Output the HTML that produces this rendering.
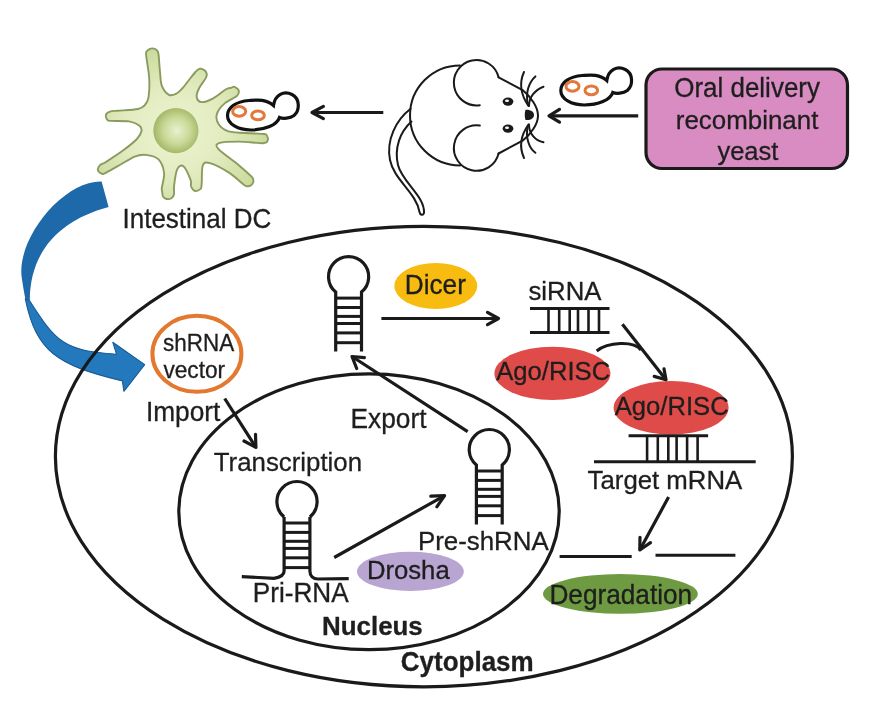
<!DOCTYPE html>
<html><head><meta charset="utf-8"><style>
html,body{margin:0;padding:0;background:#fff;width:876px;height:706px;overflow:hidden}
svg{display:block;will-change:transform}
text{font-family:"Liberation Sans",sans-serif;fill:#1e1e1e;stroke:#1e1e1e;stroke-width:0.3px}
</style></head><body>
<svg width="876" height="706" viewBox="0 0 876 706">
<defs><radialGradient id="dcg" cx="0.45" cy="0.55" r="0.6"><stop offset="0" stop-color="#edf4d2"/><stop offset="0.5" stop-color="#e2ebbf"/><stop offset="1" stop-color="#c8d897"/></radialGradient><radialGradient id="nucg" cx="0.52" cy="0.5" r="0.5"><stop offset="0" stop-color="#e9f1cf"/><stop offset="0.6" stop-color="#c9d896"/><stop offset="1" stop-color="#a6b96a"/></radialGradient></defs>
<path d="M101.6,181.4 C63.3,180.3 14.9,239.3 22.0,279.6 C32.2,348.7 49.6,363.5 122.4,380.9 L123.9,391.3 L144.7,364.6 L112.8,342.3 L116.5,354.2 C63.6,350.6 56.4,342.5 29.8,301.0 C29.7,251.8 59.3,220.0 108.6,206.9 Z" fill="#1e69aa"/>
<path d="M25.3,298.8 C36.2,351.7 56.9,365.2 122.4,380.9 L123.9,391.3 L144.7,364.6 L112.8,342.3 L116.5,354.2 C63.6,350.6 56.4,342.5 29.8,301.0 Z" fill="#2479bd" stroke="#1b5e9b" stroke-width="1.1" stroke-linejoin="round"/>
<path d="M146.1,54.8 C145.8,50.2 146.7,51.8 147.4,50.8 C148.0,49.8 148.8,49.2 149.9,48.8 C151.0,48.4 153.0,48.3 154.1,48.6 C155.3,48.8 156.1,49.3 156.8,50.3 C157.6,51.2 158.0,50.6 158.5,54.2 C159.0,57.8 159.4,66.6 160.0,71.9 C160.6,77.2 160.4,82.1 161.9,85.9 C163.4,89.7 166.5,93.5 168.9,94.8 C171.3,96.1 174.3,94.6 176.6,93.5 C178.9,92.4 180.2,90.8 182.7,88.0 C185.2,85.2 189.5,79.3 191.6,76.6 C193.7,73.9 194.2,73.3 195.4,72.0 C196.5,70.8 197.4,69.8 198.4,69.3 C199.4,68.7 200.3,68.6 201.5,68.8 C202.6,69.1 204.3,70.0 205.1,70.7 C206.0,71.5 206.4,72.3 206.6,73.5 C206.7,74.6 207.3,75.1 206.0,77.6 C204.8,80.0 200.8,84.8 199.2,88.0 C197.6,91.2 196.3,94.7 196.7,97.0 C197.1,99.3 199.0,101.9 201.8,102.1 C204.6,102.3 209.3,100.4 213.3,98.3 C217.3,96.2 223.0,91.1 226.0,89.3 C229.0,87.5 229.7,88.2 231.0,87.8 C232.4,87.4 233.1,86.4 234.4,86.9 C235.6,87.4 238.3,89.1 238.7,90.6 C239.1,92.1 239.1,93.9 236.8,96.0 C234.4,98.1 228.0,100.5 224.7,103.4 C221.4,106.3 218.1,110.2 217.0,113.6 C215.9,117.0 216.5,120.8 218.4,123.8 C220.3,126.8 223.1,129.8 228.6,131.4 C234.1,133.0 245.6,132.9 251.5,133.3 C257.4,133.7 261.4,133.7 264.0,134.0 C266.5,134.4 266.2,134.3 266.8,135.4 C267.4,136.5 268.3,139.3 267.6,140.6 C267.0,141.9 267.8,143.0 263.0,143.2 C258.2,143.3 246.0,141.6 238.8,141.6 C231.6,141.6 223.0,141.7 219.6,142.9 C216.2,144.1 215.1,145.1 218.3,148.8 C221.5,152.5 233.3,160.5 238.8,165.2 C244.3,169.9 249.2,174.2 251.6,176.7 C254.0,179.2 253.1,179.0 253.3,180.0 C253.6,181.1 253.5,181.9 253.0,182.9 C252.5,183.8 251.4,185.1 250.5,185.7 C249.6,186.2 248.7,186.4 247.7,186.3 C246.6,186.2 247.4,187.2 244.2,184.9 C241.0,182.6 234.3,176.0 228.6,172.4 C222.9,168.8 214.3,164.3 210.0,163.1 C205.7,161.9 204.3,162.1 202.9,165.2 C201.5,168.3 202.0,178.2 201.8,181.6 C201.6,185.0 201.7,184.3 201.5,185.5 C201.3,186.7 201.7,188.0 200.6,188.9 C199.5,189.9 196.6,191.4 195.0,191.0 C193.4,190.6 191.9,188.4 191.1,186.5 C190.4,184.6 191.8,183.0 190.5,179.6 C189.2,176.2 185.6,167.9 183.4,166.2 C181.2,164.5 178.8,166.1 177.2,169.3 C175.6,172.6 174.6,181.5 174.1,185.7 C173.6,189.9 174.4,192.4 174.0,194.4 C173.6,196.4 172.7,197.1 171.8,197.9 C171.0,198.7 170.1,199.1 169.0,199.1 C167.8,199.2 166.0,198.8 165.0,198.3 C163.9,197.8 163.3,197.1 162.8,196.1 C162.4,195.0 162.4,193.4 162.2,192.0 C162.1,190.6 161.5,191.0 161.8,187.8 C162.1,184.6 164.7,177.7 164.1,173.0 C163.5,168.3 161.5,162.4 158.5,159.4 C155.5,156.4 150.0,155.4 146.0,154.9 C142.0,154.4 139.4,154.7 134.7,156.6 C130.0,158.5 122.6,163.5 117.7,166.2 C112.8,168.9 107.8,171.8 105.2,173.1 C102.6,174.3 103.3,174.3 102.1,173.9 C100.9,173.4 98.3,171.8 98.0,170.4 C97.6,169.0 98.4,166.8 99.8,165.3 C101.2,163.9 102.4,164.2 106.3,161.7 C110.2,159.2 118.2,154.1 123.3,150.3 C128.4,146.5 133.9,142.2 136.9,139.0 C139.9,135.8 141.1,133.3 141.5,131.0 C141.9,128.7 141.3,127.0 139.2,125.4 C137.1,123.8 133.5,122.2 129.0,121.4 C124.5,120.7 115.6,121.1 112.0,120.9 C108.4,120.7 108.5,121.1 107.5,120.1 C106.4,119.0 105.5,116.1 106.0,114.6 C106.5,113.2 108.6,112.1 110.6,111.4 C112.6,110.7 113.1,111.1 117.7,110.7 C122.3,110.3 133.5,110.0 138.0,109.0 C142.5,108.0 143.2,106.9 144.9,105.0 C146.7,103.1 147.8,101.9 148.5,97.4 C149.2,92.9 149.6,85.3 149.2,78.2 C148.8,71.1 146.4,59.4 146.1,54.8Z" fill="url(#dcg)" stroke="#8a9b60" stroke-width="1.9"/>
<circle cx="175.9" cy="130.6" r="22.6" fill="url(#nucg)"/>
<g transform="translate(0,0)"><path d="M273.5,105.5 C266,98.5 256,100 249,100.5 C236,101.5 227.5,107.5 227.5,115.5 C227.5,124 238,130 251,130 C265,130 277,125 279.5,117.5 C283,119 290,118.5 294,115.5 C300,110.5 300,98.5 292,94.5 C284,90.5 275,94.5 273.5,105.5 Z" fill="#fff" stroke="#111" stroke-width="3.2"/><ellipse cx="239.2" cy="111.4" rx="6.5" ry="4.8" fill="none" stroke="#e3783a" stroke-width="3"/><ellipse cx="258" cy="115.4" rx="6.3" ry="4.4" fill="none" stroke="#e3783a" stroke-width="3"/></g>
<g transform="translate(333.3,-25)"><path d="M273.5,105.5 C266,98.5 256,100 249,100.5 C236,101.5 227.5,107.5 227.5,115.5 C227.5,124 238,130 251,130 C265,130 277,125 279.5,117.5 C283,119 290,118.5 294,115.5 C300,110.5 300,98.5 292,94.5 C284,90.5 275,94.5 273.5,105.5 Z" fill="#fff" stroke="#111" stroke-width="3.2"/><ellipse cx="239.2" cy="111.4" rx="6.5" ry="4.8" fill="none" stroke="#e3783a" stroke-width="3"/><ellipse cx="258" cy="115.4" rx="6.3" ry="4.4" fill="none" stroke="#e3783a" stroke-width="3"/></g>
<line x1="383.3" y1="112.5" x2="312" y2="112.5" stroke="#1a1a1a" stroke-width="3.2"/><polyline points="323.4,106.4 312,112.5 323.4,118.6" fill="none" stroke="#1a1a1a" stroke-width="3.2" stroke-linejoin="round" stroke-linecap="round"/>
<line x1="638.2" y1="115.8" x2="549" y2="115.8" stroke="#1a1a1a" stroke-width="3.2"/><polyline points="559.5,109.4 549,115.8 559.5,122.1" fill="none" stroke="#1a1a1a" stroke-width="3.2" stroke-linejoin="round" stroke-linecap="round"/>
<g fill="none" stroke="#1a1a1a" stroke-width="2.0" stroke-linecap="round">
<path d="M460,65.4 A50,50 0 0 0 460,165.4"/>
<path d="M479.8,105.2 A22.7,22.7 0 1 1 498.6,77.3"/>
<path d="M479.8,125.6 A22.7,22.7 0 1 0 498.6,153.5"/>
<path d="M498.6,77.3 L522.6,90.1 C531,97 538,107 538,115.4 C538,124 531,134 522.6,140.7 L498.6,153.5"/>
<path d="M528.5,106 C521,95 519,83 524,72"/><path d="M528,105 C525,93 529,82 535.4,76.4"/><path d="M529,106 C529,97 535,90 543.5,86.7"/>
<path d="M528.5,124.5 C521,135 519,147 524,158"/><path d="M528,125.5 C525,137 529,148 535.4,152.8"/><path d="M529,124.5 C529,133.5 535,140.5 543.5,142.3"/>
<path d="M410.6,108.8 C396,120 386,140 390,160 C394,180 416,192 419.5,212 C420,215 423,216 424,213 C425,196 402,182 398,165 C394,148 400,132 411.5,121.6"/>
</g>
<ellipse cx="508" cy="101.6" rx="5.4" ry="4.1" fill="#1a1a1a"/><ellipse cx="508" cy="128.6" rx="5.4" ry="4.1" fill="#1a1a1a"/>
<ellipse cx="507" cy="100.8" rx="2" ry="1.3" fill="#fff"/><ellipse cx="507" cy="127.8" rx="2" ry="1.3" fill="#fff"/>
<path d="M525.5,109.8 C531,109.5 534,112 534,115 C534,118 531,120.5 525.5,120 C524.5,117 524.5,113 525.5,109.8 Z" fill="#1a1a1a"/>
<rect x="646" y="69" width="201.5" height="99.5" rx="16" ry="16" fill="#d98cc2" stroke="#1a1a1a" stroke-width="3.2"/>
<ellipse cx="423.9" cy="456.6" rx="368.5" ry="230.2" fill="none" stroke="#1a1a1a" stroke-width="3.2"/>
<ellipse cx="369" cy="511.7" rx="190.2" ry="137.9" fill="none" stroke="#1a1a1a" stroke-width="3.2"/>
<ellipse cx="196.9" cy="353.8" rx="44.5" ry="38" fill="none" stroke="#e3782f" stroke-width="4"/>
<path d="M335.7,351.6 L335.7,292.1 A20.1,20.1 0 1 1 361.5,292.1 L361.5,351.6" fill="none" stroke="#1a1a1a" stroke-width="3.2"/><line x1="335.7" y1="298.1" x2="361.5" y2="298.1" stroke="#1a1a1a" stroke-width="3"/><line x1="335.7" y1="307.5" x2="361.5" y2="307.5" stroke="#1a1a1a" stroke-width="3"/><line x1="335.7" y1="316.4" x2="361.5" y2="316.4" stroke="#1a1a1a" stroke-width="3"/><line x1="335.7" y1="323.5" x2="361.5" y2="323.5" stroke="#1a1a1a" stroke-width="3"/><line x1="335.7" y1="332.9" x2="361.5" y2="332.9" stroke="#1a1a1a" stroke-width="3"/><line x1="335.7" y1="342.7" x2="361.5" y2="342.7" stroke="#1a1a1a" stroke-width="3"/>
<path d="M476.4,524.5 L476.4,465.0 A20.1,20.1 0 1 1 502.2,465.0 L502.2,524.5" fill="none" stroke="#1a1a1a" stroke-width="3.2"/><line x1="476.4" y1="471.0" x2="502.2" y2="471.0" stroke="#1a1a1a" stroke-width="3"/><line x1="476.4" y1="480.4" x2="502.2" y2="480.4" stroke="#1a1a1a" stroke-width="3"/><line x1="476.4" y1="489.3" x2="502.2" y2="489.3" stroke="#1a1a1a" stroke-width="3"/><line x1="476.4" y1="496.4" x2="502.2" y2="496.4" stroke="#1a1a1a" stroke-width="3"/><line x1="476.4" y1="505.8" x2="502.2" y2="505.8" stroke="#1a1a1a" stroke-width="3"/><line x1="476.4" y1="515.6" x2="502.2" y2="515.6" stroke="#1a1a1a" stroke-width="3"/>
<path d="M284.1,517.0 A20.1,20.1 0 1 1 309.9,517.0" fill="none" stroke="#1a1a1a" stroke-width="3.2"/><line x1="284.1" y1="523.0" x2="309.9" y2="523.0" stroke="#1a1a1a" stroke-width="3"/><line x1="284.1" y1="532.4" x2="309.9" y2="532.4" stroke="#1a1a1a" stroke-width="3"/><line x1="284.1" y1="541.3" x2="309.9" y2="541.3" stroke="#1a1a1a" stroke-width="3"/><line x1="284.1" y1="548.4" x2="309.9" y2="548.4" stroke="#1a1a1a" stroke-width="3"/><line x1="284.1" y1="557.8" x2="309.9" y2="557.8" stroke="#1a1a1a" stroke-width="3"/><line x1="284.1" y1="567.6" x2="309.9" y2="567.6" stroke="#1a1a1a" stroke-width="3"/>
<path d="M241.8,576.6 L274,578.3 C279,577.5 284.1,576 284.1,571 L284.1,517 M309.9,517 L309.9,571 C310,576 313,579 318,579 L348.7,578.7" fill="none" stroke="#1a1a1a" stroke-width="3.2"/>
<ellipse cx="435.8" cy="286" rx="41.5" ry="22.9" fill="#f8bb10"/>
<ellipse cx="552.4" cy="373.4" rx="58" ry="26.6" fill="#de4b48"/>
<ellipse cx="671.1" cy="407.8" rx="57.5" ry="26.8" fill="#de4b48"/>
<ellipse cx="410.4" cy="571.4" rx="53.4" ry="19.6" fill="#b8a5d1"/>
<ellipse cx="620.4" cy="593.9" rx="77.4" ry="19.8" fill="#6e9b41"/>
<line x1="530" y1="308.5" x2="609.5" y2="308.5" stroke="#1a1a1a" stroke-width="3"/><line x1="530" y1="332.4" x2="609.5" y2="332.4" stroke="#1a1a1a" stroke-width="3"/><line x1="548.5" y1="308.5" x2="548.5" y2="332.4" stroke="#1a1a1a" stroke-width="2.6"/><line x1="559.2" y1="308.5" x2="559.2" y2="332.4" stroke="#1a1a1a" stroke-width="2.6"/><line x1="569.7" y1="308.5" x2="569.7" y2="332.4" stroke="#1a1a1a" stroke-width="2.6"/><line x1="578.0" y1="308.5" x2="578.0" y2="332.4" stroke="#1a1a1a" stroke-width="2.6"/><line x1="588.5" y1="308.5" x2="588.5" y2="332.4" stroke="#1a1a1a" stroke-width="2.6"/><line x1="599.0" y1="308.5" x2="599.0" y2="332.4" stroke="#1a1a1a" stroke-width="2.6"/>
<line x1="628.6" y1="435.8" x2="708.1" y2="435.8" stroke="#1a1a1a" stroke-width="3"/><line x1="594" y1="461.8" x2="755.7" y2="461.8" stroke="#1a1a1a" stroke-width="3"/><line x1="647.1" y1="435.8" x2="647.1" y2="461.8" stroke="#1a1a1a" stroke-width="2.6"/><line x1="657.8" y1="435.8" x2="657.8" y2="461.8" stroke="#1a1a1a" stroke-width="2.6"/><line x1="668.3" y1="435.8" x2="668.3" y2="461.8" stroke="#1a1a1a" stroke-width="2.6"/><line x1="676.6" y1="435.8" x2="676.6" y2="461.8" stroke="#1a1a1a" stroke-width="2.6"/><line x1="687.1" y1="435.8" x2="687.1" y2="461.8" stroke="#1a1a1a" stroke-width="2.6"/><line x1="697.6" y1="435.8" x2="697.6" y2="461.8" stroke="#1a1a1a" stroke-width="2.6"/>
<line x1="381.4" y1="318.5" x2="498.5" y2="318.5" stroke="#1a1a1a" stroke-width="3.2"/><polyline points="487.5,312.4 498.5,318.5 487.5,324.6" fill="none" stroke="#1a1a1a" stroke-width="3.2" stroke-linejoin="round" stroke-linecap="round"/>
<line x1="224.7" y1="398.5" x2="255.9" y2="447.4" stroke="#1a1a1a" stroke-width="3.2"/><polyline points="255.5,434.4 255.9,447.4 244,441" fill="none" stroke="#1a1a1a" stroke-width="3.2" stroke-linejoin="round" stroke-linecap="round"/>
<line x1="467.7" y1="431.7" x2="352" y2="356.5" stroke="#1a1a1a" stroke-width="3.2"/><polyline points="356.7,368.5 352,356.5 364.4,357.7" fill="none" stroke="#1a1a1a" stroke-width="3.2" stroke-linejoin="round" stroke-linecap="round"/>
<line x1="334.2" y1="557.5" x2="444.6" y2="495.6" stroke="#1a1a1a" stroke-width="3.2"/><polyline points="430.8,496.2 444.6,495.6 436.8,506.8" fill="none" stroke="#1a1a1a" stroke-width="3.2" stroke-linejoin="round" stroke-linecap="round"/>
<line x1="622.4" y1="324.2" x2="666" y2="379.7" stroke="#1a1a1a" stroke-width="3.2"/><polyline points="654.2,376.4 666,379.7 664,368.9" fill="none" stroke="#1a1a1a" stroke-width="3.2" stroke-linejoin="round" stroke-linecap="round"/>
<path d="M596.7,351 C608,342 633.6,340.6 641,350" fill="none" stroke="#1a1a1a" stroke-width="3"/>
<line x1="668.6" y1="497" x2="639.8" y2="550" stroke="#1a1a1a" stroke-width="3.2"/><polyline points="640,537.3 639.8,550 650.5,542.6" fill="none" stroke="#1a1a1a" stroke-width="3.2" stroke-linejoin="round" stroke-linecap="round"/>
<line x1="559.6" y1="556.5" x2="631.7" y2="556.5" stroke="#1a1a1a" stroke-width="3"/>
<line x1="655.5" y1="555.3" x2="735.4" y2="555.3" stroke="#1a1a1a" stroke-width="3"/>
<text transform="translate(674.2,97.4) scale(1,1.03)" font-size="25.97">Oral delivery</text>
<text transform="translate(675.8,128.9) scale(1,1.03)" font-size="25.91">recombinant</text>
<text transform="translate(717.4,160.3) scale(1,1.03)" font-size="25.52">yeast</text>
<text transform="translate(122.5,227.5) scale(1,1.03)" font-size="26.01">Intestinal DC</text>
<text transform="translate(163.1,351.0) scale(1,1.03)" font-size="22.49">shRNA</text>
<text transform="translate(163.4,378.3) scale(1,1.03)" font-size="22.67">vector</text>
<text transform="translate(145.9,421.1) scale(1,1.03)" font-size="26.29">Import</text>
<text transform="translate(213.8,471.3) scale(1,1.03)" font-size="25.82">Transcription</text>
<text transform="translate(350.5,427.9) scale(1,1.03)" font-size="26.29">Export</text>
<text transform="translate(252.8,602.1) scale(1,1.03)" font-size="26.16">Pri-RNA</text>
<text transform="translate(417.9,549.9) scale(1,1.03)" font-size="25.89">Pre-shRNA</text>
<text transform="translate(366.9,578.9) scale(1,1.03)" font-size="25.69">Drosha</text>
<text transform="translate(404.7,293.9) scale(1,1.03)" font-size="26.22">Dicer</text>
<text transform="translate(528.5,300.2) scale(1,1.03)" font-size="25.75">siRNA</text>
<text transform="translate(496.2,379.9) scale(1,1.03)" font-size="25.64">Ago/RISC</text>
<text transform="translate(614.7,414.7) scale(1,1.03)" font-size="25.64">Ago/RISC</text>
<text transform="translate(587.6,489.4) scale(1,1.03)" font-size="25.79">Target mRNA</text>
<text transform="translate(549.4,604.0) scale(1,1.03)" font-size="26.21">Degradation</text>
<text transform="translate(322.0,634.5) scale(1,1.03)" font-size="25.92" font-weight="bold">Nucleus</text>
<text transform="translate(400.8,670.8) scale(1,1.03)" font-size="25.99" font-weight="bold">Cytoplasm</text>
</svg></body></html>
